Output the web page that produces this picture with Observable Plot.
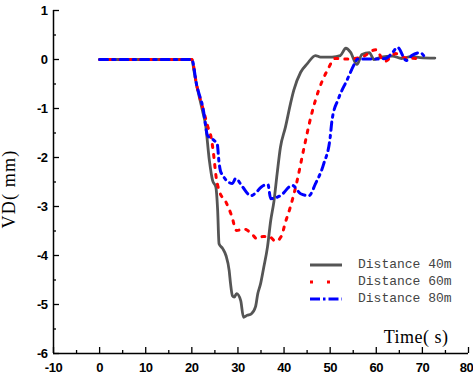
<!DOCTYPE html>
<html>
<head>
<meta charset="utf-8">
<script src="https://cdn.jsdelivr.net/npm/d3@7"></script>
<script src="https://cdn.jsdelivr.net/npm/@observablehq/plot@0.6"></script>
<style>
  html, body { margin: 0; padding: 0; background: #fff; }
  #wrap { position: relative; width: 473px; height: 380px; }
  #legend { position: absolute; left: 308px; top: 256px; font-family: "Liberation Mono", "DejaVu Sans Mono", monospace; font-size: 13px; color: #444; }
  #legend .row { display: flex; align-items: center; height: 17px; }
  #legend svg { margin-right: 14px; }
</style>
</head>
<body>
<div id="wrap"></div>
<script>
// Series names
const seriesNames = ["Distance 40m", "Distance 60m", "Distance 80m"];
const seriesColors = ["#555555", "#ff0000", "#0000ff"];

// Distance 40m
const t40 = [0, 5, 10, 15, 20, 20.5, 21, 22.3, 23.0, 23.8, 24.5, 25.2, 25.6, 25.9, 26.7, 27.4, 28.1, 28.4, 28.8, 29.2, 29.7, 30.6, 31.2, 32.0, 32.9, 33.8, 34.3, 34.9, 35.6, 36.4, 37.1, 37.8, 38.5, 39.2, 40.3, 41.4, 42.1, 43.6, 45.0, 46.8, 47.9, 50.4, 52.2, 53.4, 54.4, 55.8, 56.9, 58.5, 59.5, 61.0, 63.5, 65.5, 67.5, 69.5, 72.7];
const v40 = [0, 0, 0, 0, 0, -0.25, -0.5, -1.04, -1.35, -2.06, -2.47, -2.6, -3.08, -3.76, -3.86, -4.0, -4.31, -4.58, -4.82, -4.85, -4.78, -4.92, -5.26, -5.22, -5.19, -5.05, -4.78, -4.58, -4.24, -3.83, -3.29, -2.9, -2.33, -1.8, -1.38, -0.9, -0.63, -0.26, -0.09, 0.08, 0.05, 0.05, 0.08, 0.23, 0.15, -0.1, 0.1, 0.14, 0.0, 0.05, 0.07, 0.02, 0.06, 0.04, 0.03];

// Distance 60m
const t60 = [0, 5, 10, 15, 20, 21, 22.5, 23.4, 24.3, 24.8, 25.2, 25.9, 27.4, 28.6, 29.7, 31.3, 32.8, 34.2, 35.5, 36.7, 38.2, 39.4, 40.3, 41.3, 42.7, 44.2, 45.9, 47.5, 49.4, 51.1, 53.8, 56.9, 59.9, 61.8, 64.2, 66.6, 69.5];
const v60 = [0, 0, 0, 0, 0, -0.5, -1.03, -1.35, -1.65, -2.0, -2.35, -2.67, -2.91, -3.18, -3.49, -3.46, -3.54, -3.66, -3.61, -3.61, -3.71, -3.61, -3.32, -3.03, -2.53, -1.86, -1.14, -0.63, -0.22, 0.02, 0.01, 0.05, 0.2, -0.04, 0.12, 0.03, 0.02];

// Distance 80m
const t80 = [0, 5, 10, 15, 20, 21, 22.5, 23.4, 24.8, 25.5, 25.9, 26.3, 28.8, 29.5, 31.0, 32.8, 35.6, 36.5, 37.1, 39.2, 41.8, 43.6, 45.4, 46.8, 48.6, 50.0, 50.4, 51.8, 53.6, 55.5, 55.9, 60.1, 62.0, 63.6, 64.6, 66.5, 67.7, 69.5, 70.5];
const v80 = [0, 0, 0, 0, 0, -0.5, -1.03, -1.55, -1.65, -1.72, -2.1, -2.3, -2.53, -2.43, -2.6, -2.78, -2.57, -2.55, -2.84, -2.78, -2.57, -2.74, -2.78, -2.54, -2.13, -1.59, -1.24, -0.8, -0.43, -0.05, 0.01, 0.01, 0.02, 0.15, 0.25, -0.02, 0.08, 0.14, 0.05];

// Axis ticks
const xTicks = [-10, 0, 10, 20, 30, 40, 50, 60, 70, 80];
const xMinor = [-5, 5, 15, 25, 35, 45, 55, 65, 75];
const yTicks = [1, 0, -1, -2, -3, -4, -5, -6];
const yMinor = [0.5, -0.5, -1.5, -2.5, -3.5, -4.5, -5.5];
const xLabel = "Time( s)";
const yLabel = "VD( mm)";

const toRows = (ts, vs) => ts.map((t, i) => ({t, v: vs[i]}));
const d40 = toRows(t40, v40), d60 = toRows(t60, v60), d80 = toRows(t80, v80);

const tickFont = {fontFamily: "'Liberation Sans Narrow', 'Liberation Sans', Arial, sans-serif", fontWeight: "bold", fontSize: 13};
const serif = "'Liberation Serif', 'Times New Roman', serif";

const chart = Plot.plot({
  width: 473, height: 380,
  marginLeft: 53, marginRight: 5, marginTop: 10, marginBottom: 27,
  style: {background: "#fff", color: "#000", overflow: "visible"},
  x: {domain: [-10, 80]},
  y: {domain: [-6, 1]},
  marks: [
    Plot.axisX({ticks: xTicks, tickSize: 0, tickPadding: 9, tickFormat: d => String(d), label: null, ...tickFont, fill: "#000"}),
    Plot.axisX({ticks: xTicks, tickSize: -6, text: null, label: null, stroke: "#000", strokeWidth: 1.3}),
    Plot.axisX({ticks: xMinor, tickSize: -3, text: null, label: null, stroke: "#000", strokeWidth: 1.3}),
    Plot.axisY({ticks: yTicks, tickSize: 0, tickPadding: 6, tickFormat: d => String(d), label: null, ...tickFont, fill: "#000"}),
    Plot.axisY({ticks: yTicks, tickSize: -6, text: null, label: null, stroke: "#000", strokeWidth: 1.3}),
    Plot.axisY({ticks: yMinor, tickSize: -3, text: null, label: null, stroke: "#000", strokeWidth: 1.3}),
    Plot.ruleX([-10], {stroke: "#000", strokeWidth: 1.5}),
    Plot.ruleY([-6], {stroke: "#000", strokeWidth: 1.5}),
    Plot.line(d40, {x: "t", y: "v", stroke: seriesColors[0], strokeWidth: 2.8, curve: "monotone-x"}),
    Plot.line(d60, {x: "t", y: "v", stroke: seriesColors[1], strokeWidth: 3, strokeDasharray: "3,7", curve: "monotone-x"}),
    Plot.line(d80, {x: "t", y: "v", stroke: seriesColors[2], strokeWidth: 3, strokeDasharray: "8,5,2.5,5", curve: "monotone-x"}),
    Plot.text([xLabel], {frameAnchor: "bottom-right", dx: -20, dy: -11, text: d => d, fontFamily: serif, fontSize: 18, fill: "#000", textAnchor: "end", lineAnchor: "bottom"}),
    Plot.text([yLabel], {frameAnchor: "left", dx: -44, dy: 7, rotate: -90, text: d => d, fontFamily: serif, fontSize: 18, fill: "#000", textAnchor: "middle", lineAnchor: "middle"})
  ]
});

// letter spacing tweaks (not a Plot option)
const svg = d3.select(chart);
svg.selectAll("text").each(function() {
  const t = this.textContent;
  if (t === xLabel) d3.select(this).attr("letter-spacing", "0.5px");
  else if (t === yLabel) d3.select(this).attr("letter-spacing", "1.2px");
});
const xLabs = svg.selectAll("g[aria-label='x-axis tick label'] text");
xLabs.attr("letter-spacing", "-0.5px");
xLabs.filter(function() { return this.textContent === String(xTicks[xTicks.length - 1]); }).attr("dx", "-2");
svg.selectAll("g[aria-label='y-axis tick label'] text").attr("letter-spacing", "-0.5px");

const wrap = document.getElementById("wrap");
wrap.appendChild(chart);

// Legend overlay
const legend = document.createElement("div");
legend.id = "legend";
const dashes = [null, "3,14", "10,3,2.5,3"];
seriesNames.forEach((name, i) => {
  const row = document.createElement("div");
  row.className = "row";
  const sw = d3.create("svg").attr("width", 36).attr("height", 10);
  sw.append("line").attr("x1", 2).attr("x2", 34).attr("y1", 5).attr("y2", 5)
    .attr("stroke", seriesColors[i]).attr("stroke-width", 3)
    .attr("stroke-dasharray", dashes[i]);
  row.appendChild(sw.node());
  const span = document.createElement("span");
  span.textContent = name;
  row.appendChild(span);
  legend.appendChild(row);
});
wrap.appendChild(legend);
</script>
</body>
</html>
